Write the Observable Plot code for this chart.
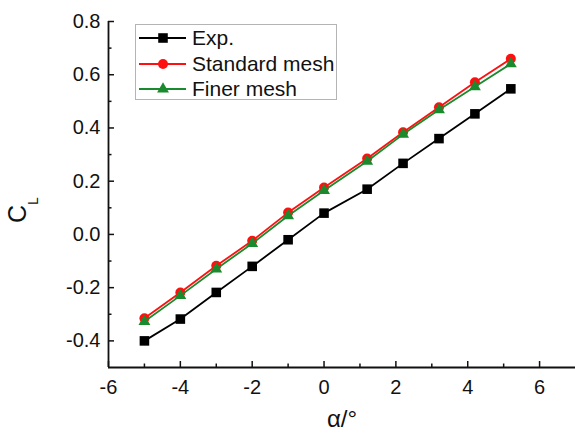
<!DOCTYPE html>
<html>
<head>
<meta charset="utf-8">
<script src="https://cdn.jsdelivr.net/npm/d3@7"></script>
<script src="https://cdn.jsdelivr.net/npm/@observablehq/plot@0.6"></script>
<style>
  body { margin: 0; background: #fff; font-family: "Liberation Sans", Arial, sans-serif; }
  #wrap { position: relative; width: 575px; height: 434px; }
  #legend { position: absolute; left: 135px; top: 24px; width: 202px; height: 76px;
            border: 1px solid #b4b4b4; background: #fff; box-sizing: border-box; }
  .row { position: absolute; left: 0; height: 26px; width: 100%; }
  .row svg { position: absolute; left: 2px; top: 0; }
  .row span { position: absolute; left: 56px; top: 0; line-height: 26px; font-size: 21px; color: #111; white-space: nowrap; }
</style>
</head>
<body>
<div id="wrap"></div>
<script>
// ---- data ----
const alpha = [-5, -4, -3, -2, -1, 0, 1.2, 2.2, 3.2, 4.2, 5.2];
const expCL = [-0.400, -0.318, -0.218, -0.120, -0.020, 0.080, 0.170, 0.267, 0.360, 0.453, 0.547];
const standardCL = [-0.315, -0.218, -0.118, -0.024, 0.082, 0.176, 0.285, 0.384, 0.478, 0.572, 0.660];
const finerCL = [-0.327, -0.230, -0.130, -0.034, 0.070, 0.165, 0.275, 0.376, 0.468, 0.555, 0.641];
const seriesNames = ["Exp.", "Standard mesh", "Finer mesh"];
const seriesColors = ["#000000", "#ff1010", "#1a8a2e"];
const seriesSymbols = ["square", "circle", "triangle"];
const seriesR = [5.4, 5.0, 4.4];
const xMajor = [-6, -4, -2, 0, 2, 4, 6];
const xMinor = [-5, -3, -1, 1, 3, 5];
const yMajor = [-0.4, -0.2, 0.0, 0.2, 0.4, 0.6, 0.8];
const yMinor = [-0.3, -0.1, 0.1, 0.3, 0.5, 0.7];

const W = 575, H = 434, mL = 108, mR = 0, mT = 21, mB = 67;
const frameW = W - mL - mR, frameH = H - mT - mB;

const seriesValues = [expCL, standardCL, finerCL];
const table = seriesValues.flatMap((vals, s) => alpha.map((a, i) => ({series: seriesNames[s], s, x: a, y: vals[i]})));

const marks = [];
seriesNames.forEach((name, s) => {
  const d = table.filter(r => r.s === s);
  marks.push(Plot.line(d, {x: "x", y: "y", stroke: seriesColors[s], strokeWidth: 1.8}));
  marks.push(Plot.dot(d, {x: "x", y: "y", symbol: () => seriesSymbols[s], r: seriesR[s], fill: seriesColors[s], stroke: "none"}));
});

const chart = Plot.plot({
  width: W, height: H,
  marginLeft: mL, marginRight: mR, marginTop: mT, marginBottom: mB,
  style: {fontFamily: "'Liberation Sans', Arial, sans-serif", fontSize: "20px", color: "#111", background: "#fff", overflow: "visible"},
  x: {domain: [-6, 7], axis: null},
  y: {domain: [-0.5, 0.8], axis: null},
  marks: [
    // ticks (inward)
    Plot.ruleX(xMajor, {stroke: "#111", strokeWidth: 1.5, insetTop: frameH - 6}),
    Plot.ruleX(xMinor, {stroke: "#111", strokeWidth: 1.5, insetTop: frameH - 3.5}),
    Plot.ruleY(yMajor, {stroke: "#111", strokeWidth: 1.5, insetRight: frameW - 6}),
    Plot.ruleY(yMinor, {stroke: "#111", strokeWidth: 1.5, insetRight: frameW - 3.5}),
    // axis lines
    Plot.ruleX([-6], {stroke: "#111", strokeWidth: 1.8}),
    Plot.ruleY([-0.5], {stroke: "#111", strokeWidth: 1.8}),
    // tick labels
    Plot.axisX({ticks: xMajor, tickSize: 0, tickPadding: 12, tickFormat: d => String(d), label: null}),
    Plot.axisY({ticks: yMajor, tickSize: 0, tickPadding: 8, tickFormat: d => d.toFixed(1), label: null}),
    ...marks
  ]
});

const svg = d3.select(chart);
// y axis label C_L
const yl = svg.append("text")
  .attr("transform", "translate(26,210) rotate(-90)")
  .attr("text-anchor", "middle")
  .attr("fill", "#111")
  .style("font-size", "25px");
yl.append("tspan").text("C");
yl.append("tspan").attr("dy", 12).style("font-size", "14px").text("L");
// x axis label
svg.append("text")
  .attr("x", 342).attr("y", 427)
  .attr("text-anchor", "middle")
  .attr("fill", "#111")
  .style("font-size", "24px")
  .text("α/°");

const wrap = document.getElementById("wrap");
wrap.appendChild(chart);

// legend
const legend = document.createElement("div");
legend.id = "legend";
seriesNames.forEach((name, s) => {
  const row = document.createElement("div");
  row.className = "row";
  row.style.top = (0 + 25.5 * s) + "px";
  const sw = d3.create("svg").attr("width", 50).attr("height", 26);
  sw.append("line").attr("x1", 1).attr("x2", 48).attr("y1", 13).attr("y2", 13)
    .attr("stroke", seriesColors[s]).attr("stroke-width", 1.8);
  const sym = {square: d3.symbolSquare, circle: d3.symbolCircle, triangle: d3.symbolTriangle}[seriesSymbols[s]];
  sw.append("path").attr("transform", "translate(25,13)")
    .attr("d", d3.symbol(sym, Math.PI * seriesR[s] * seriesR[s])())
    .attr("fill", seriesColors[s]);
  row.appendChild(sw.node());
  const t = document.createElement("span");
  t.textContent = name;
  row.appendChild(t);
  legend.appendChild(row);
});
wrap.appendChild(legend);
</script>
</body>
</html>
